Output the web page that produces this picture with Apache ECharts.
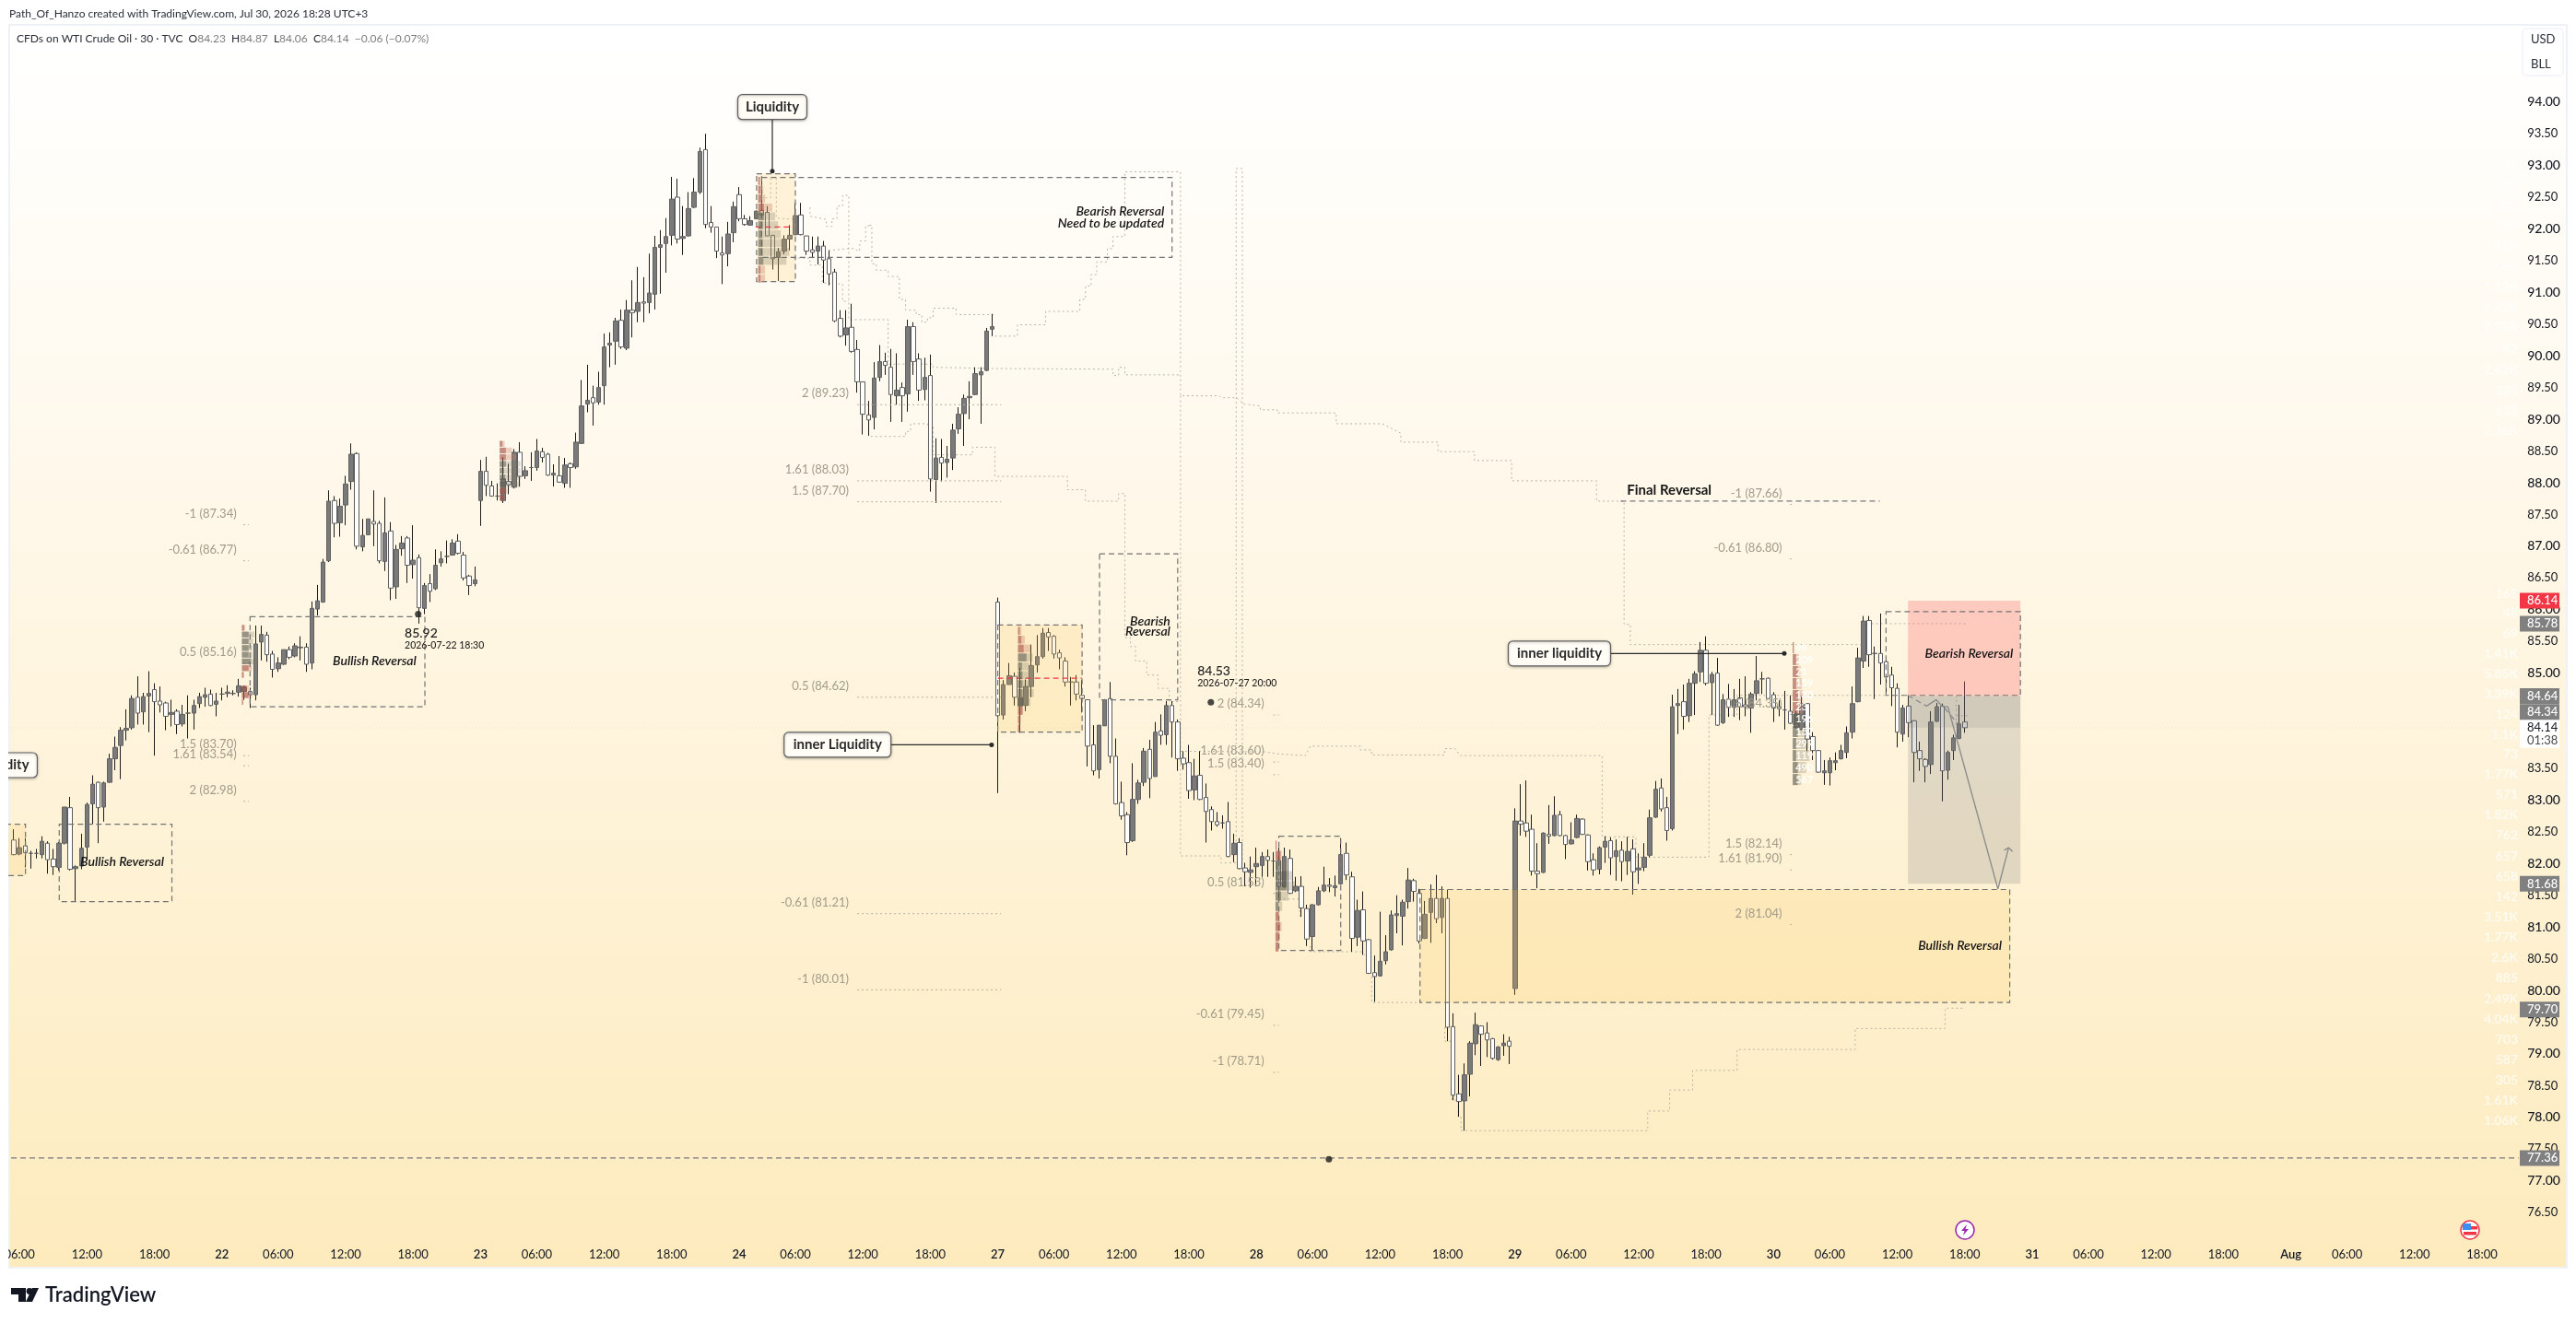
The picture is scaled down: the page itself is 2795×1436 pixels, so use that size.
<!DOCTYPE html>
<html>
<head>
<meta charset="utf-8">
<title>CFDs on WTI Crude Oil</title>
<script src="https://cdn.jsdelivr.net/npm/echarts@6/dist/echarts.min.js"></script>
<style>html,body{margin:0;background:#fff}#chart{width:2795px;height:1436px}</style>
</head>
<body>
<div id="chart"></div>
<script>
// 30 min candles, one entry per bar
var opens = [
82.37,82.15,82.28,82.16,82.16,82.14,82.32,82.07,81.94,82.32,
82.88,81.92,81.96,82.26,82.94,83.28,82.89,83.28,83.65,83.86,
84.10,84.14,84.62,84.39,84.64,84.74,84.56,84.53,84.35,84.40,
84.20,84.37,84.37,84.52,84.62,84.67,84.51,84.67,84.68,84.68,
84.70,84.71,84.71,84.66,85.49,85.60,85.30,85.07,85.14,85.37,
85.27,85.40,85.41,85.16,86.01,86.12,86.77,87.72,87.37,87.65,
88.02,88.46,86.99,87.18,87.39,87.36,86.76,87.24,86.36,86.96,
87.13,86.71,86.82,86.02,86.41,86.33,86.74,86.84,86.86,87.08,
86.86,86.53,86.41,87.72,88.18,87.95,87.79,87.72,88.02,87.93,
88.48,88.11,88.24,88.24,88.49,88.45,88.12,88.11,87.99,88.30,
88.25,88.62,89.24,89.34,89.27,89.53,90.17,90.23,90.56,90.12,
90.72,90.70,90.85,90.84,90.97,91.71,91.77,91.90,92.50,91.85,
91.89,92.34,92.58,93.25,92.10,92.03,91.62,91.61,91.94,92.54,
92.16,92.06,92.16,92.29,92.26,91.90,91.55,91.65,91.84,91.91,
92.22,91.89,91.67,91.65,91.73,91.53,91.32,90.59,90.33,90.45,
90.10,89.59,89.07,89.03,89.66,89.91,89.82,89.37,89.50,89.40,
90.46,89.95,89.47,89.69,88.05,88.40,88.32,88.39,88.85,89.09,
89.34,89.39,89.70,89.77,90.42,86.12,84.34,84.82,84.95,84.48,
84.49,84.79,85.13,85.26,85.64,85.58,85.32,85.19,84.86,84.86,
84.65,84.58,83.87,83.48,84.17,84.60,83.69,82.96,82.77,82.36,
83.01,83.28,83.80,83.37,84.09,84.03,84.49,84.23,83.66,83.59,
83.16,83.39,83.04,82.85,82.66,82.64,82.66,82.14,82.33,81.93,
81.86,81.95,81.97,82.11,82.04,82.05,81.63,82.08,81.57,81.64,
81.29,80.85,81.35,81.57,81.66,81.62,81.68,82.16,81.79,80.84,
81.27,80.80,80.28,80.23,80.47,80.64,81.18,81.17,81.40,81.73,
81.53,80.82,81.23,81.45,81.15,81.45,79.43,78.37,78.26,78.68,
79.16,79.44,79.33,79.24,78.91,79.13,79.20,80.03,82.67,82.64,
82.54,81.88,81.86,82.46,82.44,82.77,82.44,82.31,82.41,82.70,
82.45,82.06,81.91,82.26,82.36,82.11,82.21,82.04,82.23,81.90,
81.94,82.13,82.73,83.19,82.88,82.55,84.49,84.55,84.33,84.84,
85.02,85.36,84.85,85.00,84.22,84.59,84.46,84.61,84.50,84.45,
84.68,84.91,84.92,84.66,84.47,84.42,84.40,84.14,84.11,84.52,
84.00,83.78,83.43,83.43,83.59,83.65,83.75,84.07,84.55,85.19,
85.83,85.31,85.31,85.18,84.97,84.76,84.04,84.48,84.25,83.78,
83.64,83.56,84.24,84.48,83.47,83.78,83.97,84.23];
var closes = [
82.14,82.25,82.17,82.16,82.16,82.35,82.06,81.95,82.32,82.89,
81.91,81.95,82.24,82.93,83.25,82.88,83.27,83.65,83.83,84.10,
84.13,84.60,84.37,84.63,84.68,84.55,84.50,84.32,84.38,84.19,
84.35,84.37,84.49,84.63,84.66,84.49,84.56,84.67,84.70,84.68,
84.80,84.78,84.66,85.46,85.61,85.29,85.06,85.16,85.37,85.25,
85.43,85.41,85.14,86.02,86.14,86.75,87.71,87.36,87.63,87.98,
88.45,87.00,87.17,87.43,87.35,86.77,87.21,86.34,86.95,87.05,
86.70,86.78,86.03,86.38,86.29,86.70,86.80,86.84,87.05,86.89,
86.50,86.38,86.47,88.18,87.96,87.79,87.79,88.06,87.97,88.48,
88.10,88.19,88.24,88.50,88.40,88.12,88.15,88.01,88.28,88.24,
88.64,89.21,89.30,89.26,89.50,90.14,90.20,90.55,90.14,90.72,
90.68,90.84,90.83,90.99,91.71,91.75,91.88,92.47,91.84,91.88,
92.32,92.58,93.22,92.07,92.03,91.65,91.59,91.92,92.35,92.16,
92.07,92.13,92.28,92.22,91.89,91.53,91.64,91.84,91.90,92.21,
91.91,91.65,91.63,91.73,91.51,91.29,90.55,90.31,90.44,90.07,
89.59,89.08,88.99,89.65,89.91,89.85,89.39,89.46,89.37,90.46,
89.91,89.46,89.66,88.06,88.39,88.31,88.37,88.83,89.08,89.33,
89.36,89.72,89.75,90.39,90.46,84.33,84.82,84.96,84.62,84.62,
84.79,85.12,85.26,85.63,85.57,85.30,85.24,84.86,84.86,84.67,
84.60,83.85,83.46,84.18,84.58,83.69,82.94,82.75,82.33,83.01,
83.27,83.77,83.34,84.07,84.02,84.49,84.23,83.65,83.57,83.15,
83.38,83.01,82.82,82.66,82.61,82.64,82.11,82.32,81.92,81.87,
81.90,82.00,82.11,82.05,82.04,81.64,82.11,81.53,81.64,81.30,
80.81,81.35,81.57,81.66,81.64,81.65,82.14,81.82,80.82,81.26,
80.78,80.27,80.22,80.46,80.61,81.19,81.21,81.39,81.74,81.56,
80.78,81.20,81.45,81.13,81.45,79.42,78.35,78.25,78.67,79.17,
79.46,79.31,79.22,78.93,79.11,79.17,79.12,82.67,82.62,82.51,
81.88,81.84,82.48,82.43,82.76,82.44,82.30,82.37,82.71,82.46,
82.03,81.90,82.25,82.35,82.09,82.20,82.03,82.19,81.87,81.93,
82.10,82.72,83.17,82.86,82.52,84.47,84.52,84.32,84.84,84.99,
85.36,84.84,84.98,84.18,84.58,84.46,84.58,84.47,84.47,84.67,
84.88,84.91,84.60,84.45,84.44,84.42,84.21,84.36,84.52,83.96,
83.78,83.44,83.46,83.62,83.62,83.78,84.06,84.52,85.24,85.82,
85.29,85.31,85.16,84.94,84.77,84.07,84.45,84.22,83.75,83.65,
83.53,84.23,84.47,83.46,83.75,83.98,84.20,84.14];
var lows = [
82.13,82.13,81.94,81.92,82.08,82.08,81.84,81.82,81.89,82.30,
81.89,81.41,81.91,82.06,82.62,82.32,82.66,83.27,83.47,83.33,
83.94,84.11,84.19,84.19,84.07,83.70,84.38,84.10,84.16,84.04,
84.16,83.97,84.11,84.45,84.47,84.48,84.32,84.57,84.62,84.65,
84.63,84.58,84.45,84.57,85.20,85.18,84.93,85.02,85.13,85.22,
85.25,85.20,85.02,85.06,85.91,86.11,86.75,87.14,87.15,87.33,
87.89,86.95,86.92,87.18,87.00,86.73,86.61,86.15,86.17,86.85,
86.42,86.49,85.78,85.93,86.12,86.31,86.68,86.73,86.85,86.87,
86.46,86.23,86.37,87.32,87.79,87.78,87.72,87.68,87.82,87.91,
87.94,88.06,88.03,88.19,88.32,88.11,87.94,88.00,87.92,87.92,
88.22,88.61,89.11,88.90,89.23,89.23,89.82,89.86,90.11,90.09,
90.29,90.53,90.53,90.67,90.73,90.98,91.31,91.74,91.77,91.59,
91.88,92.33,92.55,92.01,91.94,91.54,91.13,91.41,91.79,92.12,
92.05,92.05,92.15,92.17,91.89,91.36,91.18,91.60,91.66,91.90,
91.90,91.59,91.54,91.44,91.15,91.11,90.53,90.29,90.16,90.05,
89.42,88.76,88.74,88.84,89.60,89.70,88.96,89.23,88.96,89.12,
89.70,89.29,89.30,87.86,87.68,88.02,88.08,88.20,88.77,88.58,
89.00,89.38,88.93,89.76,90.31,83.11,84.27,84.82,84.49,84.06,
84.40,84.62,85.01,85.23,85.35,85.23,85.06,84.79,84.49,84.57,
84.38,83.53,83.39,83.34,84.17,83.58,82.93,82.69,82.13,82.34,
82.94,83.22,83.03,83.37,83.87,83.87,83.67,83.46,83.48,83.02,
83.00,83.00,82.33,82.52,82.58,82.55,82.10,82.02,81.91,81.64,
81.62,81.64,81.79,81.79,81.79,81.43,81.62,81.52,81.55,81.16,
80.70,80.63,81.34,81.55,81.55,81.48,81.67,81.74,80.61,80.70,
80.56,80.26,79.82,80.22,80.41,80.63,80.90,80.71,81.29,81.40,
80.74,80.81,80.75,81.06,80.90,79.20,78.27,78.01,77.79,78.33,
78.98,78.81,78.95,78.91,78.89,78.97,78.84,79.93,82.44,82.42,
81.81,81.61,81.85,82.31,82.43,82.43,82.07,82.30,82.40,82.45,
81.89,81.81,81.83,82.01,81.82,81.73,81.72,81.82,81.51,81.68,
81.88,82.10,82.72,82.82,82.36,82.52,84.04,84.11,84.23,84.34,
84.86,84.81,84.34,84.17,84.20,84.31,84.31,84.26,84.32,84.06,
84.57,84.67,84.59,84.23,84.32,84.11,84.20,84.14,84.10,83.77,
83.63,83.43,83.24,83.23,83.47,83.64,83.66,83.97,84.54,85.08,
85.10,84.59,84.82,84.65,84.48,83.83,83.92,83.99,83.28,83.46,
83.28,83.41,84.23,82.98,83.32,83.63,83.96,84.06];
var highs = [
82.54,82.40,82.40,82.20,82.23,82.43,82.35,82.23,82.34,82.89,
83.05,81.97,82.47,82.96,83.39,83.29,83.29,83.73,84.00,84.15,
84.43,84.65,84.95,84.69,85.03,84.84,84.79,84.55,84.58,84.43,
84.50,84.65,84.58,84.69,84.77,84.74,84.69,84.77,84.81,84.73,
84.91,84.80,84.77,85.75,85.75,85.65,85.35,85.25,85.37,85.42,
85.47,85.58,85.47,86.13,86.39,86.80,87.88,87.79,87.75,88.11,
88.62,88.48,87.43,87.43,87.88,87.40,87.77,87.38,87.02,87.16,
87.16,87.33,86.87,86.42,86.56,86.95,86.92,87.09,87.11,87.19,
86.91,86.55,86.68,88.36,88.41,88.03,87.99,88.40,88.30,88.53,
88.64,88.26,88.48,88.69,88.55,88.47,88.29,88.42,88.39,88.32,
88.79,89.62,89.86,89.53,89.75,90.35,90.37,90.60,90.73,90.88,
91.19,91.40,91.24,91.61,91.89,91.98,92.17,92.82,92.79,92.36,
92.58,92.80,93.28,93.50,92.36,92.03,91.88,92.11,92.43,92.66,
92.22,92.20,92.29,92.83,92.36,91.90,91.70,91.90,92.06,92.41,
92.41,91.89,91.88,91.88,91.81,91.66,91.37,90.72,90.72,90.82,
90.25,89.59,89.29,89.90,90.17,90.05,90.11,90.04,89.58,90.57,
90.53,90.04,89.97,90.02,88.70,88.69,88.58,88.93,89.19,89.39,
89.60,89.82,89.82,90.44,90.66,86.19,84.89,85.16,85.01,85.08,
84.90,85.45,85.60,85.71,85.71,85.60,85.37,85.25,84.94,84.97,
84.89,84.58,84.18,84.18,84.59,84.86,83.97,83.29,82.81,83.58,
83.32,83.82,83.95,84.23,84.35,84.56,84.56,84.27,83.77,83.87,
83.65,83.77,83.26,82.90,82.81,82.76,82.97,82.47,82.40,82.01,
82.11,82.25,82.18,82.22,82.18,82.25,82.25,82.22,81.79,81.80,
81.35,81.36,81.63,81.95,81.77,81.81,82.40,82.33,81.87,81.43,
81.56,80.81,80.55,81.24,80.87,81.26,81.50,81.43,81.93,81.76,
81.60,81.41,81.67,81.82,81.64,81.59,79.64,78.67,78.85,79.20,
79.65,79.45,79.50,79.25,79.12,79.31,79.27,82.87,83.25,83.31,
82.77,82.32,82.49,82.92,83.06,82.83,82.45,82.65,82.77,82.71,
82.46,82.16,82.27,82.43,82.41,82.38,82.35,82.42,82.38,82.16,
82.32,82.85,83.30,83.34,83.05,84.66,84.75,84.82,84.91,85.03,
85.49,85.58,85.02,85.24,84.67,84.83,84.75,84.91,84.95,84.70,
85.27,85.02,84.93,84.70,84.57,84.72,84.65,84.40,84.63,84.53,
84.07,83.79,83.63,83.67,83.75,83.87,84.16,84.79,85.40,85.90,
85.90,85.42,85.94,85.27,85.10,84.84,84.50,84.65,84.26,83.92,
83.66,84.40,84.53,84.52,83.78,84.03,84.50,84.87];

// axis
var priceTicks = [76.5,77,77.5,78,78.5,79,79.5,80,80.5,81,81.5,82,82.5,83,83.5,85,85.5,86,86.5,87,87.5,88,88.5,89,89.5,90,90.5,91,91.5,92,92.5,93,93.5,94];
var tickBars = [1,13,25,37,47,59,71,83,93,105,117,129,139,151,163,175,185,197,209,221,231,243,255,267,277,289,301,313,323,335,347,359,369,381,393,405,415,427,439];
var tickLabels = ['06:00','12:00','18:00','22','06:00','12:00','18:00','23','06:00','12:00','18:00','24','06:00','12:00','18:00','27','06:00','12:00','18:00','28','06:00','12:00','18:00','29','06:00','12:00','18:00','30','06:00','12:00','18:00','31','06:00','12:00','18:00','Aug','06:00','12:00','18:00'];
var barSlots = 446;

// price tags on the axis
var badgePrices = [85.78,81.68,79.70,77.36,84.64,84.34,86.14];
var countdownText = '01:38';
var changeText = '\u22120.06 (\u22120.07%)';

// drawn zones: [bar from, bar to, price top, price bottom]
var yellowZones = [[132.1,139,92.87,91.17],[175,190,85.76,84.07],[250.1,355,81.59,79.81],[-1.5,2.06,82.62,81.81]];
var riskZone = [[336.9,356.9,86.14,84.64]];
var rewardZones = [[336.9,356.9,84.64,84.14],[336.9,356.9,84.14,81.68]];
var dashedBoxes = [[8.06,28.1,82.62,81.40],[42,73.1,85.89,84.47],[133,206,92.81,91.55],[132.1,139,92.87,91.17],[175,190,85.76,84.07],[193.1,207,86.88,84.58],[225,236,82.43,80.63],[250.1,355,81.59,79.81],[333,356.9,85.97,84.65],[-1.5,2.06,82.62,81.81]];

// flat lines: [bar from, bar to, price]
var dashedLevels = [[285.8,331.9,87.71],[-0.5,445.5,77.36]];
var redMidLines = [[132,138.7,92.03],[175,190,84.92]];
var fibSegments = [[40.8,41.8,87.34],[40.8,41.8,86.77],[40.8,41.8,85.16],[40.8,41.8,83.70],[40.8,41.8,83.54],[40.8,41.8,82.98],
  [150,175.6,89.23],[150,175.6,88.03],[150,175.6,87.70],[150,175.6,84.62],[150,175.6,81.21],[150,175.6,80.01],
  [224,225,84.34],[224,225,83.60],[224,225,83.40],[224,225,81.53],[224,225,79.45],[224,225,78.71],
  [315.9,316.7,87.66],[315.9,316.7,86.80],[315.9,316.7,84.35],[315.9,316.7,82.14],[315.9,316.7,81.90],[315.9,316.7,81.04]];
var lastPriceLine = [[-0.5,445.5,84.14]];

// fib labels
var fibTexts = ['-1 (87.34)','-0.61 (86.77)','0.5 (85.16)','1.5 (83.70)','1.61 (83.54)','2 (82.98)',
  '2 (89.23)','1.61 (88.03)','1.5 (87.70)','0.5 (84.62)','-0.61 (81.21)','-1 (80.01)',
  '2 (84.34)','1.61 (83.60)','1.5 (83.40)','0.5 (81.53)','-0.61 (79.45)','-1 (78.71)',
  '-1 (87.66)','-0.61 (86.80)','0.5 (84.35)','1.5 (82.14)','1.61 (81.90)','2 (81.04)'];
var fibTextBars = [39.6,39.6,39.6,39.6,39.6,39.6,148.5,148.5,148.5,148.5,148.5,148.5,222.4,222.4,222.4,222.4,222.4,222.4,314.5,314.5,314.5,314.5,314.5,314.5];
var fibTextPrices = [87.34,86.77,85.16,83.70,83.54,82.98,89.23,88.03,87.70,84.62,81.21,80.01,84.34,83.60,83.40,81.53,79.45,78.71,87.66,86.80,84.35,82.14,81.90,81.04];

// zone captions
var captionTexts = ['Bullish Reversal','Bullish Reversal','Bearish Reversal','Need to be updated','Bearish','Reversal','Bearish Reversal','Bullish Reversal'];
var captionBars = [26.7,71.6,204.6,204.6,205.7,205.7,355.6,353.6];
var captionPrices = [82.02,85.19,92.27,92.09,85.82,85.65,85.31,80.70];

// price notes
var noteTexts = ['85.92','84.53'];
var noteBars = [69.5,210.5];
var notePrices = [85.62,85.03];
var noteDates = ['2026-07-22 18:30','2026-07-27 20:00'];
var noteDatePrices = [85.43,84.84];
var noteDots = [[71.9,85.93],[212.9,84.54],[233.9,77.34]];

// callouts
var calloutTexts = ['Liquidity','inner Liquidity','inner liquidity','Liquidity'];
var calloutBars = [134.9,146.5,274.9,-2.07];
var calloutPrices = [93.92,83.87,85.31,83.55];
var calloutDotBars = [134.9,173.9,314.9,null];
var calloutDotPrices = [92.91,83.87,85.31,null];
var calloutWidths = [75,116,111,76];

// volume numbers next to the axis
var volumeTexts = ['17','133','502','284','1.11K','2.6K','1.12K','2.43K','2.35K','42','2.42K','533','628','2.36K','165','48','69','1.41K','5.85K','3.39K','124','1.1K','73','1.77K','571','1.82K','762','657','658','142','3.51K','1.77K','2.6K','885','2.49K','4.04K','703','587','305','1.61K','1.06K'];
var volumePrices = [92.99,92.67,92.35,92.04,91.72,91.40,91.08,90.76,90.44,90.10,89.78,89.45,89.14,88.82,86.25,85.94,85.63,85.31,84.99,84.67,84.35,84.03,83.72,83.40,83.08,82.76,82.44,82.12,81.80,81.48,81.16,80.84,80.52,80.19,79.87,79.55,79.23,78.91,78.59,78.27,77.95];

// session volume profiles, rows from the top
var profileBars = [40.55,86.4,132.4,178.6,224.4,316.4];
var profileTops = [85.76,88.66,92.82,85.73,82.36,85.49];
var profileSteps = [0.106,0.106,0.14,0.14,0.16,0.189];
var profileKinds = ['rgggggrr-rrr','rrrggggrr','rrrrggggggrr','rrrggggggrrr','rrgggggrrrr','rrrrrrgggggg'];
var profileDark = [[.4,1.2,1.2,1.2,1.2,1.6,1.2,.3,0,.8,1.2,.2],[.5,1.1,1.1,1.1,.8,1,1,1,.8],[.25,.4,.5,1,1,.8,.7,.8,.8,.9,.4,.4],[.3,.6,1,1.5,.7,.8,.8,.8,.9,.8,.3,.3],[.2,.9,1,2,2,1,.5,.6,.8,.6,.5],[.2,.6,.9,.6,1,.9,1,.9,.6,.6,.9,.9]];
var profileLight = [[.6,2.2,2,1.9,1.9,2.9,1.8,.4,0,1.2,1.7,.3],[.9,2.2,3,3.7,3.7,3.7,3.7,1.3,.9],[.4,.9,1.2,2.5,3,3.5,4,5,5.5,5,1.2,1.2],[.6,1.2,2.2,2.6,2,2,2.4,2.8,2.2,.9,.5,.3],[.2,1.1,2,3,3.5,2.3,1.2,.7,1.1,.8,.6],[.2,1.1,1.4,1.6,1.8,1.9,1.8,2.5,2.8,3,2.4,1.5]];
var profileNumbers = ['99','209','21','159','133','23','196','157','297','119','490','567'];
var profileNumberPrices = [85.40,85.21,85.02,84.84,84.65,84.46,84.27,84.08,83.89,83.70,83.51,83.32];

// dotted step lines left by the drawing tools: [bar, price]
var stepLines = [
 [[174.5,90.31],[178.5,90.31],[178.5,90.49],[183.5,90.49],[183.5,90.70],[189.6,90.70],[189.6,90.89],[190.6,90.89],[190.6,91.10],[191.6,91.10],[191.6,91.28],[192.6,91.28],[192.6,91.48],[194.5,91.48],[194.5,91.69],[195.5,91.69],[195.5,91.88],[197.6,91.88],[197.6,92.90],[207.5,92.90],[207.5,89.37],[214.4,89.37],[214.8,89.34],[217.5,89.34],[218.7,89.24],[221.7,89.21],[221.7,89.15],[224.7,89.15],[224.7,89.10],[235.2,89.10],[235.2,88.93],[243.4,88.93],[246.7,88.78],[246.7,88.64],[253.3,88.64],[253.3,88.49],[259.8,88.49],[259.8,88.35],[266.4,88.35],[266.4,88.03],[281.5,88.03],[281.5,87.71],[286.4,87.71],[286.4,85.77],[287.5,85.77],[287.5,85.45],[328.6,85.45],[328.6,85.78],[347.5,85.78]],
 [[152.2,92.06],[152.6,92.06],[152.6,91.45],[153.4,91.45],[153.4,91.35],[155.5,91.35],[155.5,91.25],[157.5,91.25],[157.5,90.89],[158.6,90.89],[158.6,90.72],[160.5,90.72],[160.5,90.65],[161.5,90.65],[161.5,90.53],[162.5,90.53],[162.5,90.60],[163.5,90.60],[163.5,90.75],[167.6,90.75],[167.6,90.65],[174.2,90.65]],
 [[141.6,92.34],[141.6,92.20],[144.5,92.15],[144.5,92.04],[145.5,92.04],[145.5,92.16],[146.4,92.16],[146.4,92.36],[147.4,92.36],[147.4,92.53],[148.5,92.53],[148.5,90.57],[155.5,90.57],[155.5,89.87],[163.5,89.87],[163.5,89.82],[174.2,89.80],[195.5,89.79],[195.5,89.69],[196.5,89.69],[196.5,89.82],[197.6,89.82],[197.6,89.70],[207.5,89.70]],
 [[138.7,91.54],[141.6,91.54],[141.6,91.43],[143.8,91.43],[143.8,91.15],[147.4,91.13],[147.4,90.86],[148.5,90.86]],
 [[144.9,91.66],[148.5,91.69],[149.3,91.69],[150.4,91.65],[150.5,91.81],[151.5,91.81],[151.5,92.05],[152.4,92.05]],
 [[152.4,88.73],[158.6,88.73],[158.6,88.81],[159.5,88.81],[159.5,88.93],[162.5,88.93],[162.5,88.88],[163.5,88.88],[163.5,88.44],[170.5,88.44],[170.5,88.56],[174.5,88.56],[174.5,88.10],[187.4,88.10],[187.4,87.89],[190.6,87.89],[190.6,87.71],[196.5,87.71],[196.5,87.83],[197.6,87.83],[197.6,85.56],[198.6,85.56],[198.6,85.42],[199.5,85.42],[199.5,85.19],[201.5,85.19],[201.5,84.97],[203.5,84.97],[203.5,84.76],[205.5,84.76],[205.5,84.55],[207.5,84.55]],
 [[207.5,89.37],[207.5,82.12],[214.7,82.12],[214.7,82.01],[218.4,82.01]],
 [[217.4,82.35],[217.4,92.95],[218.5,92.95],[218.5,82.0]],
 [[207.5,83.77],[222.4,83.76],[224.6,83.73],[229.7,83.70],[230.6,83.85],[239.5,83.85],[239.5,83.79],[241.5,83.79],[241.5,83.71],[254.5,83.71],[254.5,83.81],[256.3,83.81],[257.3,83.70],[282.5,83.70],[282.5,82.42],[288.5,82.42],[288.5,82.10],[301.5,82.10],[301.5,84.34],[306.5,84.34],[306.5,84.65],[337,84.65]],
 [[241.5,80.22],[241.5,79.81],[250.1,79.81]],
 [[254.5,79.42],[254.5,79.20],[255.8,79.20],[255.8,78.27],[256.9,78.27],[256.9,78.01],[257.4,78.01],[257.4,77.79],[290.6,77.79],[290.6,78.10],[294.5,78.10],[294.5,78.43],[298.6,78.43],[298.6,78.74],[306.5,78.74],[306.5,79.07],[327.5,79.07],[327.5,79.40],[343.5,79.40],[343.5,79.72],[347,79.72]],
 [[230.6,80.70],[230.6,80.61],[239.7,80.61],[240.4,80.55]],
 [[134.6,92.80],[134.6,92.49],[132.9,92.49]],
 [[135.6,92.80],[135.6,92.17],[138.7,92.15]],
 [[225.8,81.44],[228.7,81.44],[228.7,81.17]],
 [[345.5,84.65],[345.5,84.16]],
 [[345.5,84.33],[347.5,84.33]]
];

// hand drawn path and its arrow head
var pathSolid = [[340.2,84.48],[341.9,84.58],[343.1,84.47],[344,84.47],[352.9,81.60],[354.8,82.25]];
var pathHead = [[354,82.21],[354.8,82.25],[355.5,82.19]];
var pathDashed = [[336.9,84.65],[340.2,84.48]];
var pathDashed2 = [[343.4,84.45],[345.7,84.21]];

var FONT = 'Lato, "Noto Sans", sans-serif';
var last = opens.length - 1;

var chart = echarts.init(document.getElementById('chart'));

var categories = [];
for (var n = 0; n < barSlots; n++) categories.push('');
tickBars.forEach(function (b, i) { categories[b] = tickLabels[i]; });

function candleData(withWicks) {
  return opens.map(function (o, i) {
    var c = closes[i];
    return withWicks ? [o, c, lows[i], highs[i]] : [o, c, Math.min(o, c), Math.max(o, c)];
  });
}

function rectSeries(name, rows, style, z) {
  return {
    type: 'custom', name: name, xAxisIndex: 1, z: z, silent: true, animation: false,
    encode: { x: [0, 1], y: [2, 3] }, data: rows,
    renderItem: function (p, api) {
      var a = api.coord([api.value(0), api.value(2)]);
      var b = api.coord([api.value(1), api.value(3)]);
      return { type: 'rect', shape: { x: a[0], y: a[1], width: b[0] - a[0], height: b[1] - a[1] }, style: style };
    }
  };
}

function segmentSeries(name, rows, style, z) {
  return {
    type: 'custom', name: name, xAxisIndex: 1, z: z, silent: true, animation: false,
    encode: { x: [0, 1], y: 2 }, data: rows,
    renderItem: function (p, api) {
      var a = api.coord([api.value(0), api.value(2)]);
      var b = api.coord([api.value(1), api.value(2)]);
      return { type: 'line', shape: { x1: a[0], y1: a[1], x2: b[0], y2: b[1] }, style: style };
    }
  };
}

function textSeries(name, texts, bars, prices, font, fill, align, dy, z) {
  return {
    type: 'custom', name: name, xAxisIndex: 1, z: z || 7, silent: true, animation: false,
    encode: { x: 0, y: 1 },
    data: bars.map(function (b, i) { return [b, prices[i]]; }),
    renderItem: function (p, api) {
      var c = api.coord([api.value(0), api.value(1)]);
      return {
        type: 'text', x: c[0], y: c[1] + (dy || 0),
        style: { text: texts[p.dataIndex], font: font, fill: fill, align: align, verticalAlign: 'middle' }
      };
    }
  };
}

function pathSeries(name, points, type, z) {
  return {
    type: 'line', name: name, xAxisIndex: 1, z: z, data: points, symbol: 'none', silent: true, animation: false,
    lineStyle: { color: '#8c8c8c', width: 1.4, type: type }
  };
}

// every profile row as [bar, price, dark width, light width, red?]
var profileRows = [];
profileBars.forEach(function (bar, k) {
  profileDark[k].forEach(function (d, r) {
    if (profileKinds[k].charAt(r) === '-') return;
    profileRows.push([bar, profileTops[k] - profileSteps[k] * r, d, profileLight[k][r], profileKinds[k].charAt(r) === 'r' ? 1 : 0, profileSteps[k]]);
  });
});

var series = [
  { type: 'candlestick', name: 'wicks', data: candleData(true), barWidth: 1, z: 3, silent: true, animation: false,
    itemStyle: { color: '#1c1c1c', color0: '#1c1c1c', borderColor: '#1c1c1c', borderColor0: '#1c1c1c', borderColorDoji: '#1c1c1c', borderWidth: 1 } },
  { type: 'candlestick', name: 'bodies', data: candleData(false), barWidth: 5, z: 4, silent: true, animation: false,
    itemStyle: { color: '#7a7a7a', color0: '#ffffff', borderColor: '#606060', borderColor0: '#5c5c5c', borderColorDoji: '#5c5c5c', borderWidth: 1 } },
  rectSeries('yellow zones', yellowZones, { fill: 'rgba(250,200,90,0.2)' }, 5),
  rectSeries('risk', riskZone, { fill: 'rgba(251,120,123,0.35)' }, 5),
  rectSeries('reward dark', rewardZones.slice(0, 1), { fill: 'rgba(120,120,120,0.34)' }, 5),
  rectSeries('reward', rewardZones.slice(1), { fill: 'rgba(120,120,120,0.21)' }, 5),
  rectSeries('boxes', dashedBoxes, { fill: 'none', stroke: '#737373', lineWidth: 1.2, lineDash: [6, 4] }, 6),
  segmentSeries('levels', dashedLevels, { stroke: '#77777f', lineWidth: 1.2, lineDash: [6, 4] }, 6),
  segmentSeries('mid lines', redMidLines, { stroke: '#f23645', lineWidth: 1.2, lineDash: [6, 4] }, 6),
  segmentSeries('fib levels', fibSegments, { stroke: '#b5b09f', lineWidth: 1, lineDash: [2, 3] }, 6),
  segmentSeries('last price', lastPriceLine, { stroke: '#efe4c6', lineWidth: 1, lineDash: [1, 3] }, 1),
  pathSeries('path', pathSolid, 'solid', 6),
  pathSeries('path head', pathHead, 'solid', 6),
  pathSeries('path dashed', pathDashed, [6, 4], 6),
  pathSeries('path dashed 2', pathDashed2, [6, 4], 6),
  {
    type: 'custom', name: 'profiles', xAxisIndex: 1, z: 6, silent: true, animation: false,
    encode: { x: 0, y: 1 }, data: profileRows,
    renderItem: function (p, api) {
      var bar = api.value(0), price = api.value(1), red = api.value(4), step = api.value(5);
      var a = api.coord([bar, price]);
      var h = api.coord([bar, price - step])[1] - a[1] - 1;
      var w1 = api.coord([bar + api.value(2), price])[0] - a[0];
      var w2 = api.coord([bar + api.value(3), price])[0] - a[0];
      return { type: 'group', children: [
        { type: 'rect', shape: { x: a[0], y: a[1], width: w2, height: h }, style: { fill: red ? 'rgba(200,130,110,0.35)' : 'rgba(125,120,95,0.28)' } },
        { type: 'rect', shape: { x: a[0], y: a[1], width: w1, height: h }, style: { fill: red ? 'rgba(150,60,50,0.45)' : 'rgba(85,85,75,0.5)' } }
      ] };
    }
  },
  textSeries('profile numbers', profileNumbers, profileNumbers.map(function () { return 316.9; }), profileNumberPrices, '600 11px ' + FONT, '#ffffff', 'left'),
  textSeries('fib labels', fibTexts, fibTextBars, fibTextPrices, '13px ' + FONT, '#a19b8a', 'right', -12),
  textSeries('captions', captionTexts, captionBars, captionPrices, 'italic 600 14px ' + FONT, '#161616', 'right'),
  textSeries('final reversal', ['Final Reversal'], [286.9], [87.88], '700 15px ' + FONT, '#161616', 'left'),
  textSeries('notes', noteTexts, noteBars, notePrices, '500 14px ' + FONT, '#1c1c1c', 'left'),
  textSeries('note dates', noteDates, noteBars, noteDatePrices, '500 10.5px ' + FONT, '#1c1c1c', 'left'),
  textSeries('volume', volumeTexts, volumeTexts.map(function () { return 445.4; }), volumePrices, '600 14px ' + FONT, 'rgba(255,255,255,0.75)', 'right'),
  {
    type: 'scatter', name: 'note dots', xAxisIndex: 1, z: 7, data: noteDots, symbolSize: 7, silent: true, animation: false,
    itemStyle: { color: '#1c1c1c' }
  },
  {
    type: 'custom', name: 'callouts', xAxisIndex: 1, z: 8, silent: true, animation: false,
    encode: { x: 0, y: 1 },
    data: calloutBars.map(function (b, i) { return [b, calloutPrices[i]]; }),
    renderItem: function (p, api) {
      var i = p.dataIndex, c = api.coord([api.value(0), api.value(1)]), w = calloutWidths[i], h = 27;
      var kids = [];
      if (calloutDotBars[i] !== null) {
        var d = api.coord([calloutDotBars[i], calloutDotPrices[i]]);
        kids.push({ type: 'line', shape: { x1: c[0], y1: c[1], x2: d[0], y2: d[1] }, style: { stroke: '#2a2a2a', lineWidth: 1.2 } });
        kids.push({ type: 'circle', shape: { cx: d[0], cy: d[1], r: 2.5 }, style: { fill: '#2a2a2a' } });
      }
      kids.push({ type: 'rect', shape: { x: c[0] - w / 2, y: c[1] - h / 2, width: w, height: h, r: 5 },
        style: { fill: '#fffdf6', stroke: '#5f5f5f', lineWidth: 1.2, shadowBlur: 3, shadowColor: 'rgba(0,0,0,0.25)', shadowOffsetY: 1 } });
      kids.push({ type: 'text', x: c[0], y: c[1], style: { text: calloutTexts[i], font: '700 15px ' + FONT, fill: '#2a2a2a', align: 'center', verticalAlign: 'middle' } });
      return { type: 'group', children: kids };
    }
  },
  {
    type: 'custom', name: 'price tags', xAxisIndex: 1, z: 9, silent: true, animation: false, clip: false,
    encode: { x: 0, y: 1 },
    data: badgePrices.map(function (v) { return [445, v]; }),
    renderItem: function (p, api) {
      var v = api.value(1), y = api.coord([0, v])[1];
      if (v === 84.34) y -= 3.3; // pushed up by the last price tag
      return { type: 'group', children: [
        { type: 'rect', shape: { x: 2734, y: y - 8.5, width: 43, height: 17 }, style: { fill: v === 86.14 ? '#f23645' : '#808080' } },
        { type: 'text', x: 2742, y: y, style: { text: v.toFixed(2), font: '500 13px ' + FONT, fill: '#fff', align: 'left', verticalAlign: 'middle' } }
      ] };
    }
  },
  {
    type: 'custom', name: 'last price', xAxisIndex: 1, z: 8.5, silent: true, animation: false,
    encode: { x: 0, y: 1 }, data: [[445, closes[last]]],
    renderItem: function (p, api) {
      var y = api.coord([0, api.value(1)])[1];
      return { type: 'group', children: [
        { type: 'rect', shape: { x: 2734, y: y - 9, width: 43, height: 31 }, style: { fill: '#fff' } },
        { type: 'text', x: 2742, y: y, style: { text: closes[last].toFixed(2), font: '13px ' + FONT, fill: '#131722', align: 'left', verticalAlign: 'middle' } },
        { type: 'text', x: 2742, y: y + 14, style: { text: countdownText, font: '13px ' + FONT, fill: '#4a4a4a', align: 'left', verticalAlign: 'middle' } }
      ] };
    }
  }
];

stepLines.forEach(function (pts, i) {
  series.push({
    type: 'line', name: 'step ' + i, xAxisIndex: 1, z: 2, data: pts, symbol: 'none', silent: true, animation: false,
    lineStyle: { color: '#b9b4a5', width: 1, type: [2, 3] }
  });
});

var legendLine = '{k|CFDs on WTI Crude Oil \u00b7 30 \u00b7 TVC}  {k|O}{v|' + opens[last].toFixed(2) + '}  {k|H}{v|84.87}  {k|L}{v|84.06}  {k|C}{v|' + closes[last].toFixed(2) + '}  {v|' + changeText + '}';

var option = {
  backgroundColor: '#ffffff',
  animation: false,
  textStyle: { fontFamily: FONT },
  grid: { left: 12.05, right: 62.35, top: 7.38, bottom: 51 },
  tooltip: { show: false },
  xAxis: [
    { type: 'category', data: categories, position: 'bottom', offset: -30,
      axisLine: { show: false }, axisTick: { show: false }, splitLine: { show: false },
      axisLabel: { interval: function (i, v) { return v !== ''; }, margin: 0, fontSize: 13, color: '#131722', fontFamily: FONT, hideOverlap: false,
        formatter: function (v) { return v.indexOf(':') > 0 ? v : '{d|' + v + '}'; },
        rich: { d: { fontSize: 13, fontWeight: 600, color: '#131722', fontFamily: FONT } } } },
    { type: 'value', min: -0.5, max: 445.5, show: false }
  ],
  yAxis: {
    type: 'value', position: 'right', min: 75.5, max: 95.5, scale: true,
    axisLine: { show: false }, axisTick: { show: false }, splitLine: { show: false },
    axisLabel: { customValues: priceTicks, margin: 9.5, showMinLabel: true, showMaxLabel: true,
      formatter: function (v) { return (v % 1 === 0 ? '{w|' : '{h|') + v.toFixed(2) + '}'; },
      rich: { w: { fontSize: 14, fontWeight: 500, color: '#131722', fontFamily: FONT }, h: { fontSize: 13, color: '#131722', fontFamily: FONT } } }
  },
  graphic: { elements: [
    { type: 'rect', z: -1, silent: true, shape: { x: 10, y: 27, width: 2775, height: 1349 },
      style: { stroke: '#eef1f5', lineWidth: 2, fill: new echarts.graphic.LinearGradient(0, 0, 0, 1, [{ offset: 0, color: '#ffffff' }, { offset: 0.33, color: '#fff9ed' }, { offset: 1, color: '#fdebbd' }]) } },
    { type: 'rect', z: 50, silent: true, shape: { x: 0, y: 0, width: 9, height: 1436 }, style: { fill: '#ffffff' } },
    { type: 'text', z: 51, silent: true, x: 10, y: 15, style: { text: 'Path_Of_Hanzo created with TradingView.com, Jul 30, 2026 18:28 UTC+3', font: '12px ' + FONT, fill: '#2a2e39', verticalAlign: 'middle' } },
    { type: 'text', z: 51, silent: true, x: 18, y: 42, style: { text: legendLine, verticalAlign: 'middle', font: '12px ' + FONT,
        rich: { k: { fontSize: 12, fill: '#2a2e39', fontFamily: FONT }, v: { fontSize: 12, fill: '#7d7d7d', fontFamily: FONT } } } },
    { type: 'rect', z: 51, silent: true, shape: { x: 2737, y: 31, width: 44, height: 51, r: 4 }, style: { fill: '#ffffff', stroke: '#f0f3fa', lineWidth: 1.5 } },
    { type: 'text', z: 52, silent: true, x: 2746, y: 43, style: { text: 'USD', font: '13px ' + FONT, fill: '#2a2e39', verticalAlign: 'middle' } },
    { type: 'text', z: 52, silent: true, x: 2746, y: 70, style: { text: 'BLL', font: '13px ' + FONT, fill: '#2a2e39', verticalAlign: 'middle' } },
    // bolt marker
    { type: 'circle', z: 51, silent: true, shape: { cx: 2132, cy: 1335, r: 10 }, style: { fill: '#ffffff', stroke: '#9c27b0', lineWidth: 1.5 } },
    { type: 'polygon', z: 52, silent: true, shape: { points: [[2134, 1329], [2128, 1336], [2131.5, 1336], [2130, 1341], [2136, 1334], [2132.5, 1334]] }, style: { fill: '#9c27b0' } },
    // US flag marker
    { type: 'circle', z: 51, silent: true, shape: { cx: 2680, cy: 1335, r: 10 }, style: { fill: '#ffffff', stroke: '#f23645', lineWidth: 1.5 } },
    { type: 'rect', z: 52, silent: true, shape: { x: 2672, y: 1328, width: 9, height: 7 }, style: { fill: '#3d8ef0' } },
    { type: 'rect', z: 52, silent: true, shape: { x: 2681, y: 1331, width: 7, height: 3.5 }, style: { fill: '#f23645' } },
    { type: 'rect', z: 52, silent: true, shape: { x: 2673, y: 1337, width: 14, height: 3.5 }, style: { fill: '#f23645' } },
    // logo
    { type: 'polygon', z: 51, silent: true, shape: { points: [[12, 1398], [28, 1398], [28, 1413], [20, 1413], [20, 1405], [12, 1405]] }, style: { fill: '#131722' } },
    { type: 'circle', z: 51, silent: true, shape: { cx: 32, cy: 1401.5, r: 3.4 }, style: { fill: '#131722' } },
    { type: 'polygon', z: 51, silent: true, shape: { points: [[35, 1398], [42, 1398], [35, 1413], [28, 1413]] }, style: { fill: '#131722' } },
    { type: 'text', z: 51, silent: true, x: 49, y: 1406, style: { text: 'TradingView', font: '600 22px ' + FONT, fill: '#131722', verticalAlign: 'middle' } }
  ] },
  series: series
};

chart.setOption(option);
</script>
</body>
</html>
